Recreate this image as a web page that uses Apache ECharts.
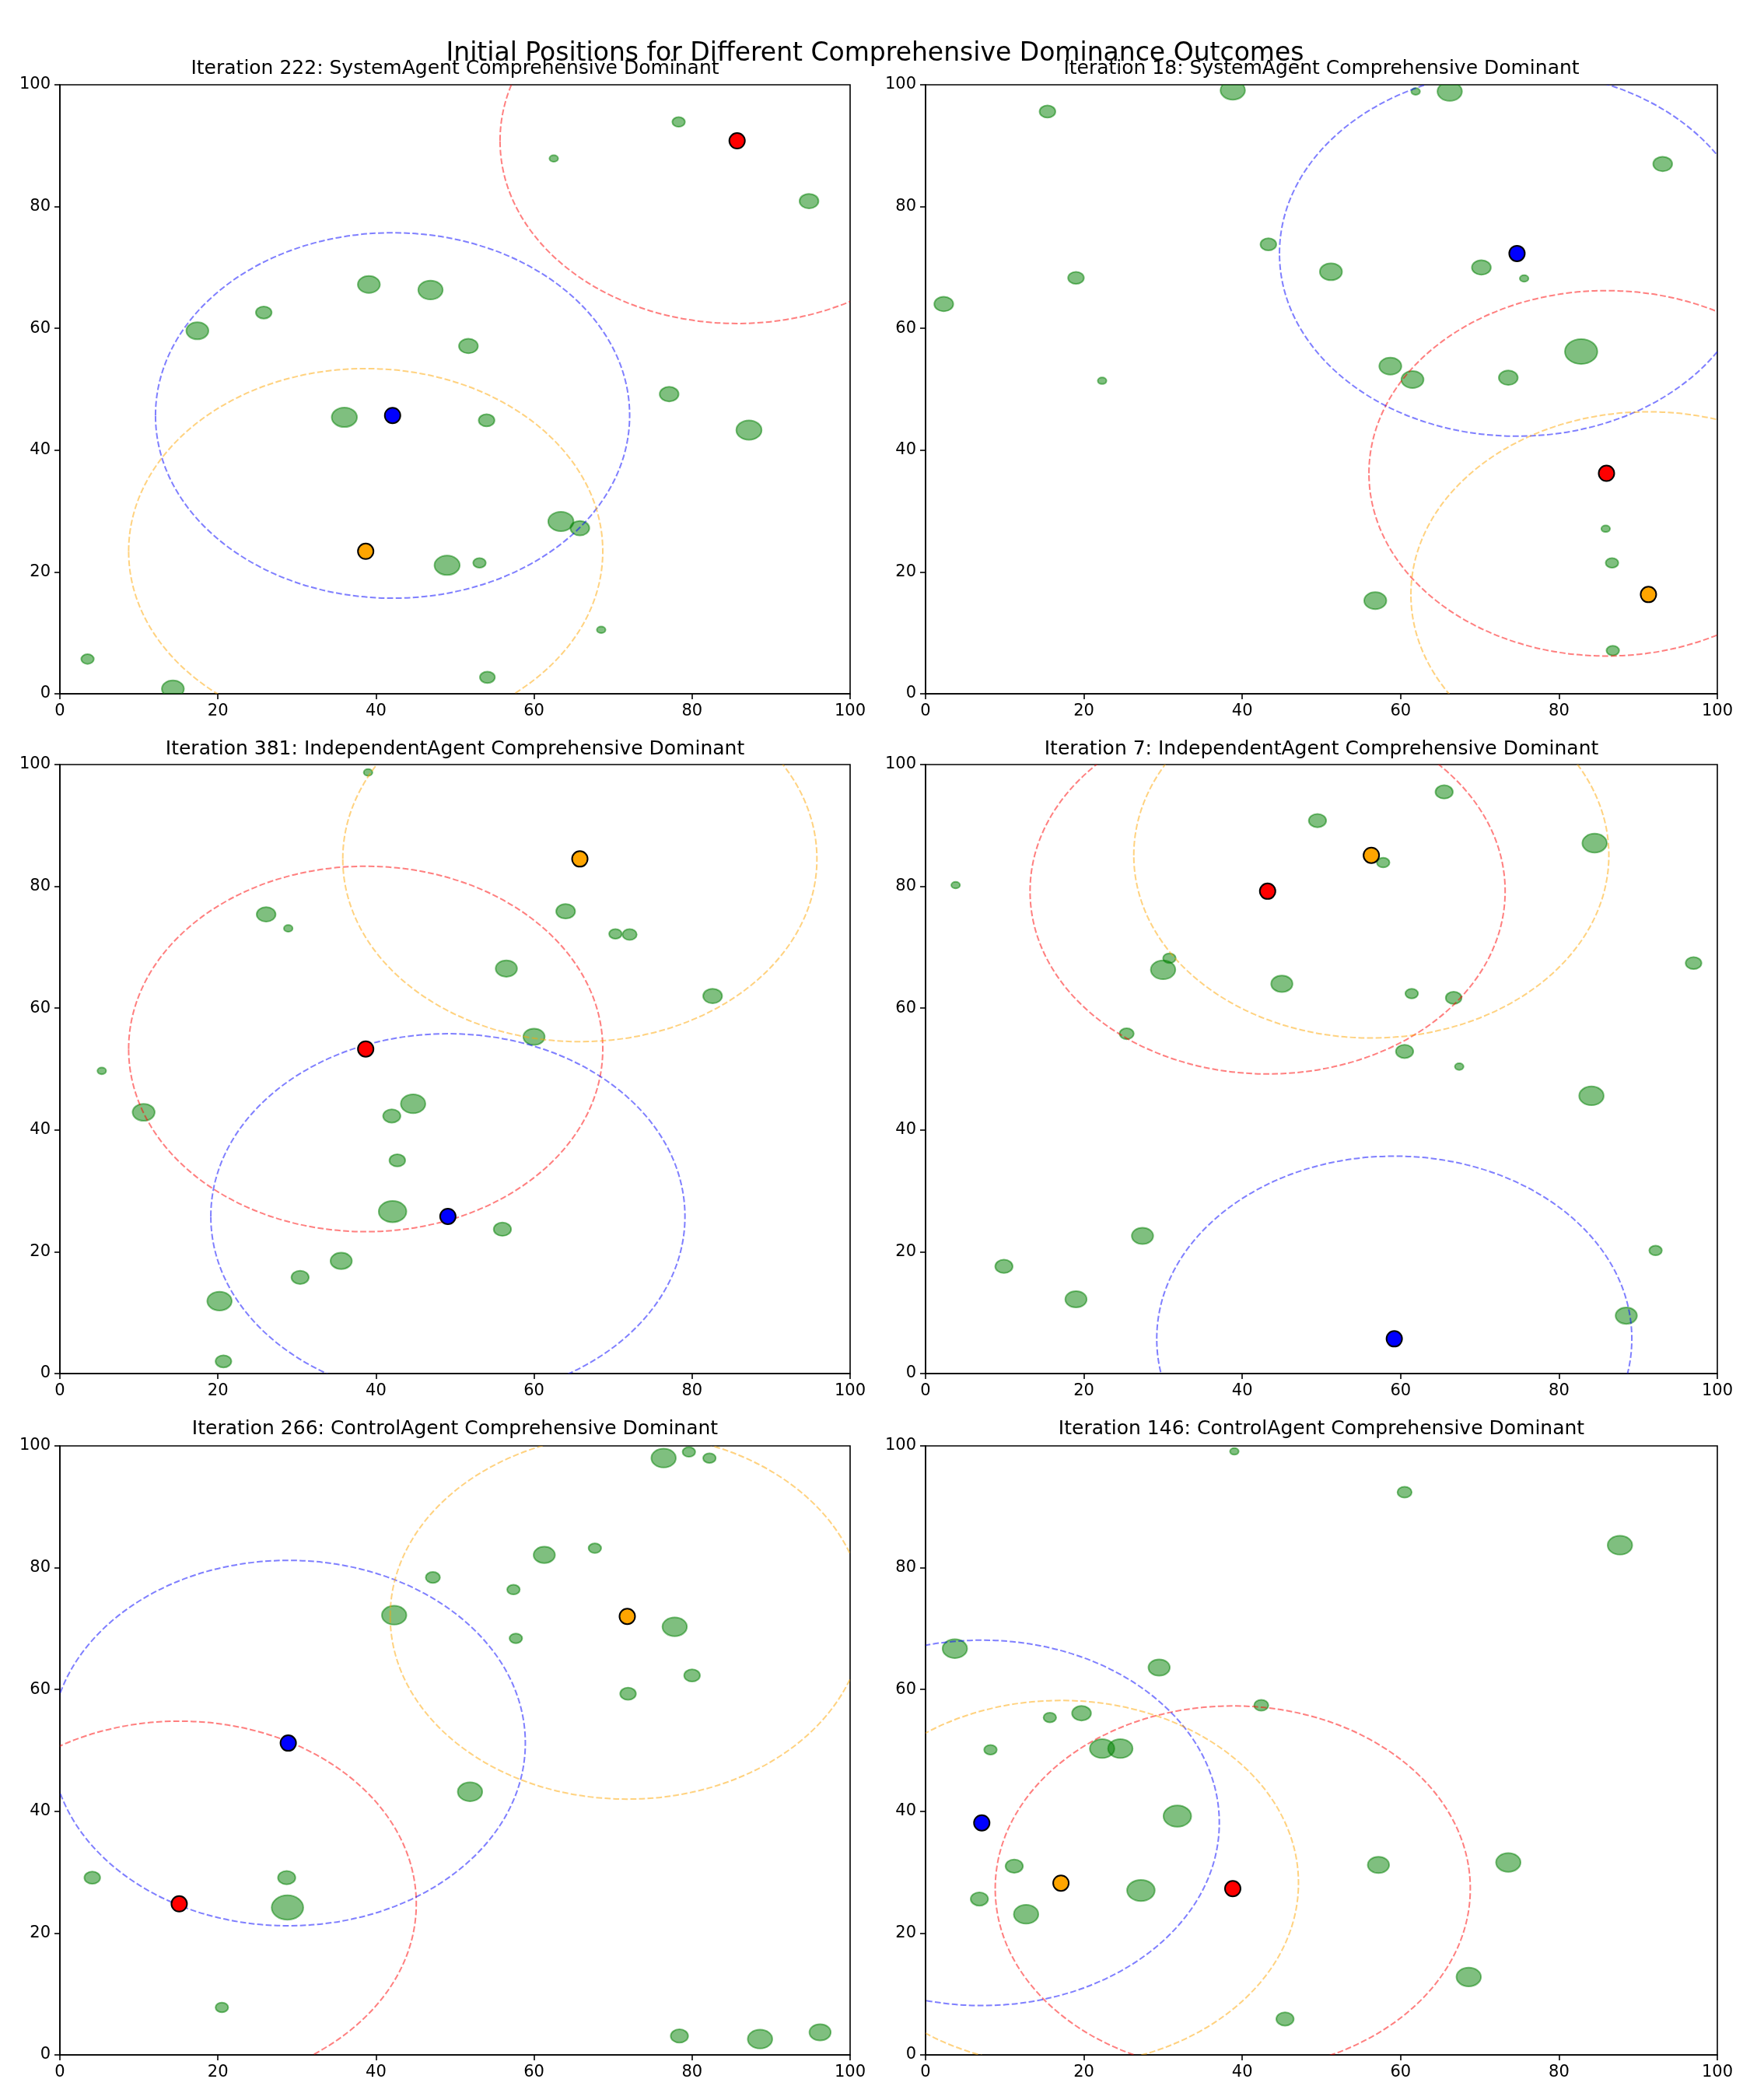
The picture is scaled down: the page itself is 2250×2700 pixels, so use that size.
<!DOCTYPE html>
<html>
<head>
<meta charset="utf-8">
<title>Initial Positions</title>
<script src="https://cdn.jsdelivr.net/npm/echarts@6/dist/echarts.min.js"></script>
<style>
  html, body { margin: 0; padding: 0; background: #fff; }
  #chart { width: 2250px; height: 2700px; }
</style>
</head>
<body>
<div id="chart"></div>
<script>
// agent order in every panel: red, blue, orange
const agentColors = ['red', 'blue', 'orange'];
const rangeColors = ['rgba(255,0,0,0.5)', 'rgba(0,0,255,0.5)', 'rgba(255,165,0,0.5)'];
const rangeRadius = 30;

const panelTitles = [
  'Iteration 222: SystemAgent Comprehensive Dominant',
  'Iteration 18: SystemAgent Comprehensive Dominant',
  'Iteration 381: IndependentAgent Comprehensive Dominant',
  'Iteration 7: IndependentAgent Comprehensive Dominant',
  'Iteration 266: ControlAgent Comprehensive Dominant',
  'Iteration 146: ControlAgent Comprehensive Dominant',
];

// agent start positions [x, y]
const agents222 = [[85.7, 90.8], [42.1, 45.7], [38.7, 23.4]];
const agents18 = [[86.0, 36.2], [74.7, 72.3], [91.3, 16.3]];
const agents381 = [[38.7, 53.3], [49.1, 25.8], [65.8, 84.5]];
const agents7 = [[43.2, 79.2], [59.2, 5.7], [56.3, 85.1]];
const agents266 = [[15.1, 24.8], [28.9, 51.2], [71.8, 72.0]];
const agents146 = [[38.8, 27.3], [7.1, 38.1], [17.1, 28.2]];

// resources [x, y, radius]
const res222 = [[78.3, 93.9, 0.8], [62.5, 87.9, 0.55], [94.8, 80.9, 1.2], [39.1, 67.2, 1.4], [46.9, 66.3, 1.55],
  [25.8, 62.6, 1.0], [17.4, 59.6, 1.4], [51.7, 57.1, 1.2], [77.1, 49.2, 1.2], [36.0, 45.4, 1.6],
  [54.0, 44.9, 1.0], [87.2, 43.3, 1.6], [63.4, 28.3, 1.6], [65.8, 27.2, 1.2], [49.0, 21.1, 1.6],
  [53.1, 21.5, 0.8], [68.5, 10.5, 0.55], [3.5, 5.7, 0.8], [14.3, 0.8, 1.4], [54.1, 2.7, 0.95]];
const res18 = [[38.8, 99.1, 1.55], [61.9, 98.9, 0.55], [66.2, 98.9, 1.55], [15.4, 95.6, 1.0], [93.1, 87.0, 1.2],
  [43.3, 73.8, 1.0], [51.2, 69.3, 1.4], [70.2, 70.0, 1.2], [75.6, 68.2, 0.55], [19.0, 68.3, 1.0],
  [2.3, 64.0, 1.2], [82.8, 56.2, 2.05], [58.7, 53.8, 1.4], [61.5, 51.6, 1.4], [73.6, 51.9, 1.2],
  [22.3, 51.4, 0.55], [85.9, 27.1, 0.55], [86.7, 21.5, 0.8], [56.8, 15.3, 1.4], [86.8, 7.1, 0.8]];
const res381 = [[39.0, 98.7, 0.55], [64.0, 75.9, 1.2], [70.3, 72.2, 0.8], [72.1, 72.1, 0.9], [26.1, 75.4, 1.2],
  [28.9, 73.1, 0.55], [56.5, 66.5, 1.35], [82.6, 62.0, 1.2], [60.0, 55.3, 1.35], [5.3, 49.7, 0.55],
  [10.6, 42.9, 1.4], [44.7, 44.3, 1.55], [42.0, 42.3, 1.1], [42.7, 35.0, 1.0], [42.1, 26.6, 1.75],
  [56.0, 23.7, 1.1], [35.6, 18.5, 1.35], [30.4, 15.8, 1.1], [20.2, 11.9, 1.55], [20.7, 2.0, 1.0]];
const res7 = [[65.5, 95.5, 1.1], [49.5, 90.8, 1.1], [84.5, 87.1, 1.55], [57.8, 83.9, 0.8], [3.8, 80.2, 0.55],
  [30.8, 68.2, 0.8], [30.0, 66.3, 1.55], [45.0, 64.0, 1.35], [61.4, 62.4, 0.8], [66.7, 61.7, 1.0],
  [97.0, 67.4, 1.0], [25.4, 55.8, 0.9], [60.5, 52.9, 1.1], [67.4, 50.4, 0.55], [84.1, 45.6, 1.55],
  [27.4, 22.6, 1.35], [9.9, 17.6, 1.1], [19.0, 12.2, 1.35], [92.2, 20.2, 0.8], [88.5, 9.5, 1.35]];
const res266 = [[76.4, 98.0, 1.55], [79.6, 99.0, 0.8], [82.2, 98.0, 0.8], [61.3, 82.1, 1.35], [67.7, 83.2, 0.8],
  [47.2, 78.4, 0.9], [57.4, 76.4, 0.8], [42.3, 72.2, 1.55], [77.8, 70.3, 1.55], [57.7, 68.4, 0.8],
  [80.0, 62.3, 1.0], [71.9, 59.3, 1.0], [51.9, 43.2, 1.55], [4.1, 29.1, 1.0], [28.7, 29.1, 1.1],
  [28.8, 24.2, 2.0], [20.5, 7.8, 0.8], [78.4, 3.1, 1.1], [88.6, 2.6, 1.55], [96.2, 3.7, 1.35]];
const res146 = [[39.0, 99.1, 0.55], [60.5, 92.4, 0.9], [87.7, 83.7, 1.55], [3.7, 66.7, 1.55], [29.5, 63.6, 1.35],
  [42.4, 57.4, 0.9], [15.7, 55.4, 0.8], [19.7, 56.1, 1.2], [8.2, 50.1, 0.8], [22.3, 50.3, 1.55],
  [24.6, 50.3, 1.55], [31.8, 39.2, 1.75], [11.2, 31.0, 1.1], [57.2, 31.2, 1.35], [73.6, 31.6, 1.55],
  [6.8, 25.6, 1.1], [27.2, 27.0, 1.75], [12.7, 23.1, 1.55], [68.6, 12.8, 1.55], [45.4, 5.9, 1.1]];

const panelAgents = [agents222, agents18, agents381, agents7, agents266, agents146];
const panelResources = [res222, res18, res381, res7, res266, res146];

const axisTicks = { min: 0, max: 100, interval: 20 };

const FONT = 'DejaVu Sans';
const colLeft = [77, 1190];
const colWidth = [1016, 1018];
const rowTop = [109, 983, 1859];
const rowTitleY = [88, 963, 1837];
const plotHeight = 783;

const grids = [], xAxes = [], yAxes = [], titles = [], series = [];

titles.push({
  text: 'Initial Positions for Different Comprehensive Dominance Outcomes',
  left: 'center', top: 69 - 17, padding: 0,
  textStyle: { fontFamily: FONT, fontSize: 33, fontWeight: 'normal', color: '#000', lineHeight: 34 },
});

panelTitles.forEach((t, i) => {
  const col = i % 2, row = Math.floor(i / 2);
  grids.push({
    left: colLeft[col], top: rowTop[row], width: colWidth[col], height: plotHeight,
    show: true, borderColor: '#000', borderWidth: 1.6, backgroundColor: 'transparent',
  });
  const axisBase = {
    gridIndex: i, type: 'value', ...axisTicks,
    axisLine: { show: true, onZero: false, lineStyle: { color: '#000', width: 1.6 } },
    axisTick: { show: true, inside: false, length: 7, lineStyle: { color: '#000', width: 1.6 } },
    axisLabel: { fontFamily: FONT, fontSize: 21, color: '#000', margin: 12 },
    splitLine: { show: false },
  };
  xAxes.push({ ...axisBase });
  yAxes.push({ ...axisBase });
  titles.push({
    text: t, left: colLeft[col] + colWidth[col] / 2, textAlign: 'center', top: rowTitleY[row] - 13, padding: 0,
    textStyle: { fontFamily: FONT, fontSize: 25, fontWeight: 'normal', color: '#000', lineHeight: 26 },
  });

  // resources: circles in data units (ellipses on screen)
  series.push({
    type: 'custom', xAxisIndex: i, yAxisIndex: i, clip: true, z: 2,
    encode: { x: 0, y: 1 },
    data: panelResources[i],
    renderItem: (params, api) => {
      const c = api.coord([api.value(0), api.value(1)]);
      const s = api.size([api.value(2), api.value(2)]);
      return {
        type: 'ellipse',
        shape: { cx: c[0], cy: c[1], rx: s[0], ry: s[1] },
        style: { fill: 'rgba(0,128,0,0.5)', stroke: 'rgba(0,128,0,0.5)', lineWidth: 2 },
      };
    },
  });

  // dashed range circles round each agent
  series.push({
    type: 'custom', xAxisIndex: i, yAxisIndex: i, clip: true, z: 3,
    encode: { x: 0, y: 1 },
    data: panelAgents[i].map(p => [p[0], p[1], rangeRadius]),
    renderItem: (params, api) => {
      const c = api.coord([api.value(0), api.value(1)]);
      const s = api.size([api.value(2), api.value(2)]);
      return {
        type: 'ellipse',
        shape: { cx: c[0], cy: c[1], rx: s[0], ry: s[1] },
        style: { fill: 'none', stroke: rangeColors[params.dataIndex], lineWidth: 2, lineDash: [7.7, 3.3] },
      };
    },
  });

  // agents
  series.push({
    type: 'scatter', xAxisIndex: i, yAxisIndex: i, z: 4,
    symbol: 'circle', symbolSize: 20,
    data: panelAgents[i].map((p, k) => ({
      value: p,
      itemStyle: { color: agentColors[k], borderColor: '#000', borderWidth: 2, opacity: 1 },
    })),
  });
});

const chart = echarts.init(document.getElementById('chart'), null, { renderer: 'canvas' });
chart.setOption({
  animation: false,
  backgroundColor: '#fff',
  title: titles,
  grid: grids,
  xAxis: xAxes,
  yAxis: yAxes,
  series: series,
});
</script>
</body>
</html>
